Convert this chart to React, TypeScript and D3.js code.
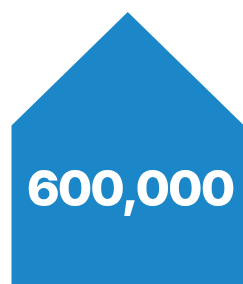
import React from "react";
import * as d3 from "d3";

const values = [600000];
const labels = ["Homes"];

const W = 243;
const H = 284;

export default function App() {
  const x = d3.scaleLinear().domain([0, 1]).range([11.5, 244]);
  const y = d3.scaleLinear().domain([0, 1]).range([12, 125.5]);
  const pts: [number, number][] = [
    [x(0), H + 10],
    [x(0), y(1)],
    [x(0.5), y(0)],
    [x(1), y(1)],
    [x(1), H + 10],
  ];
  const path = d3.line()(pts) + "Z";
  const fmt = d3.format(",");
  return (
    <svg
      width={W}
      height={H}
      style={{ position: "absolute", left: 0, top: 0, display: "block" }}
    >
      <path d={path} fill="#1c87c8" />
      {values.map((v, i) => (
        <text
          key={labels[i]}
          x={130}
          y={205.5}
          textAnchor="middle"
          fill="#ffffff"
          fontFamily="Inter, sans-serif"
          fontWeight={800}
          fontSize={50}
          letterSpacing={-2}
        >
          {fmt(v)}
        </text>
      ))}
    </svg>
  );
}
